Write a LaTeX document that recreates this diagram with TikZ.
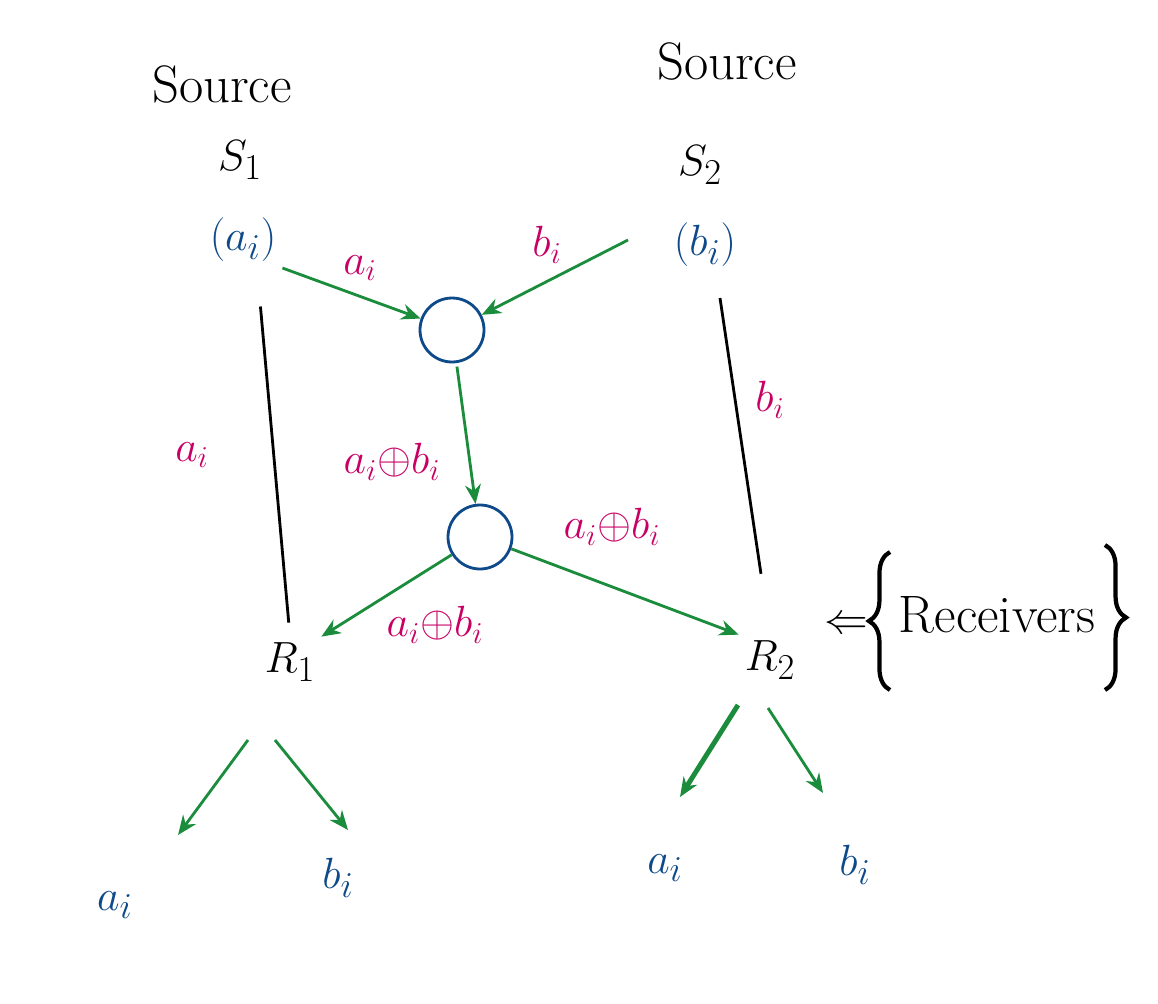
\documentclass[tikz,border=0pt]{standalone}
\usetikzlibrary{arrows.meta,positioning,decorations.pathreplacing}
\definecolor{ValClr}{RGB}{14,74,138}
\definecolor{LblClr}{RGB}{200,0,100}
\definecolor{FlowClr}{RGB}{26,140,60}

\begin{document}
\begin{tikzpicture}[x=0.02cm,y=-0.02cm,
  txt/.style={font=\fontsize{30}{34}\selectfont},
  val/.style={txt,text=ValClr},
  lbl/.style={font=\fontsize{26}{30}\selectfont,text=LblClr},
  coder/.style={circle,draw=ValClr,line width=1.6pt,minimum size=1.28cm,inner sep=0pt},
  flow/.style={-{Stealth[length=11pt,width=9pt]},draw=FlowClr,line width=1.6pt},
  link/.style={draw=black,line width=1.6pt},
  curly/.style={decorate,decoration={brace,amplitude=12pt},line width=2.4pt}]
\useasboundingbox (0,0) rectangle (1158,1003);

% sources
\node[txt] (src1) at (222,85) {Source};
\node[txt] (src2) at (727,62) {Source};
\node[txt] (s1) at (240,160) {$S_1$};
\node[txt] (s2) at (700,165) {$S_2$};
\node[val] (a0) at (243,240) {$(a_i)$};
\node[val] (b0) at (705,245) {$(b_i)$};

% coding nodes
\node[coder] (top) at (452,330) {};
\node[coder] (bot) at (480,537) {};

% receivers
\node[txt] (r1) at (290,662) {$R_1$};
\node[txt] (r2) at (770,660) {$R_2$};
\node[txt] (arr) at (846,625) {$\Leftarrow$};
\node[txt] (recv) at (997,615) {Receivers};
\coordinate (lbr1) at (890,690);
\coordinate (lbr2) at (890,552);
\coordinate (rbr1) at (1105,545);
\coordinate (rbr2) at (1105,690);
\draw[curly] (lbr1) -- (lbr2);
\draw[curly] (rbr1) -- (rbr2);

% decoded outputs
\node[val] (a1) at (115,905) {$a_i$};
\node[val] (b1) at (338,878) {$b_i$};
\node[val] (a2) at (665,868) {$a_i$};
\node[val] (b2) at (855,865) {$b_i$};

% links
\draw[flow] (a0.south east) -- (top);
\coordinate (b0out) at (628,240);
\draw[flow] (b0out) -- (top);
\draw[link,shorten <=22pt,shorten >=8pt] (a0.south) ++(14,0) -- (r1.north);
\draw[link,shorten >=35pt] (b0.south) ++(15,25) -- (r2.north);
\draw[flow,shorten <=2pt] (top) -- (bot);
\draw[flow] (bot) -- (r1.north east);
\draw[flow] (bot) -- (r2.north west);

\coordinate (r1o1) at (248,740);
\coordinate (r1o2) at (275,740);
\coordinate (r2o1) at (738,705);
\coordinate (r2o2) at (768,708);
\coordinate (a1in) at (178,835);
\coordinate (b1in) at (348,830);
\coordinate (a2in) at (680,797);
\coordinate (b2in) at (823,793);
\draw[flow] (r1o1) -- (a1in);
\draw[flow] (r1o2) -- (b1in);
\draw[flow,line width=2.8pt] (r2o1) -- (a2in);
\draw[flow] (r2o2) -- (b2in);

% link labels
\node[lbl] (la1) at (360,268) {$a_i$};
\node[lbl] (lb1) at (547,245) {$b_i$};
\node[lbl] (la2) at (192,455) {$a_i$};
\node[lbl] (lb2) at (770,400) {$b_i$};
\node[lbl] (lx1) at (392,462) {$a_i{\oplus}b_i$};
\node[lbl] (lx2) at (612,527) {$a_i{\oplus}b_i$};
\node[lbl] (lx3) at (435,625) {$a_i{\oplus}b_i$};

\end{tikzpicture}
\end{document}
